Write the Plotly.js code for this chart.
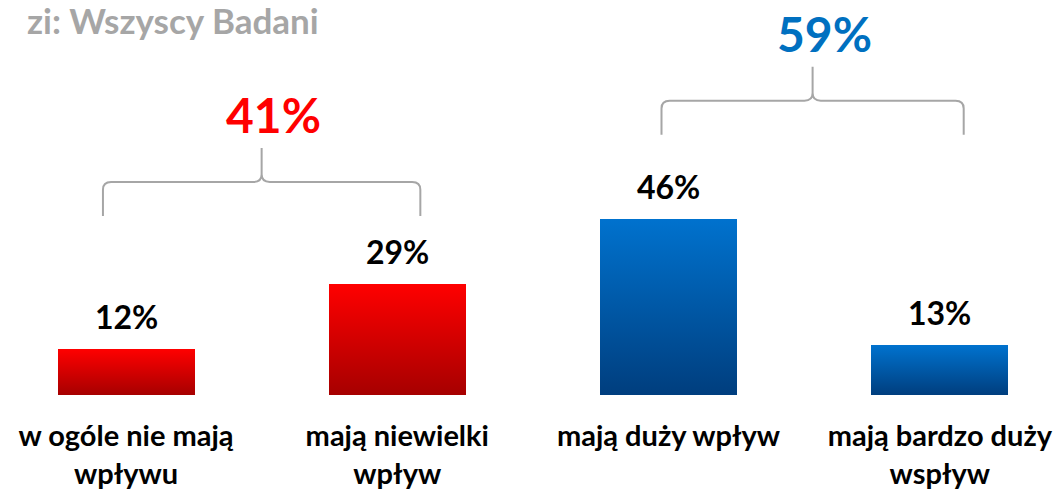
<!DOCTYPE html>
<html><head><meta charset="utf-8">
<script src="https://cdn.plot.ly/plotly-3.0.1.min.js"></script>
<style>html,body{margin:0;padding:0;background:#fff}#chart{width:1060px;height:490px}</style>
</head><body><div id="chart"></div>
<script>
// ---- data ----
const categories = ['w ogóle nie mają<br>wpływu', 'mają niewielki<br>wpływ', 'mają duży wpływ', 'mają bardzo duży<br>wspływ'];
const values = [12, 29, 46, 13];
const groupTotals = [41, 59];
const groupMembers = [[0, 1], [2, 3]];
const subtitleText = 'zi: Wszyscy Badani';

// ---- style ----
const FONT = 'Lato, "Open Sans", sans-serif';
const barTop = ['#FF0000', '#FF0000', '#0072CE', '#0072CE'];
const barBottom = ['#A60000', '#A60000', '#003E7E', '#003E7E'];
const groupColors = ['#FF0000', '#0070C0'];
const braceColor = '#A6A6A6';
const braceEnds = [46.7, 67.9];       // level where the brace legs end
const braceSpan = [[-0.085, 0.085], [-0.026, 0.088]];

const xs = values.map((v, i) => i);

const trace = {
  type: 'bar', x: xs, y: values, width: 0.505,
  marker: {color: barTop, line: {width: 0}},
  hoverinfo: 'skip', showlegend: false
};

const annotations = values.map((v, i) => ({
  x: i, y: v, xref: 'x', yref: 'y', text: v + '%', showarrow: false,
  yanchor: 'bottom', yshift: 11,
  font: {family: FONT, size: 32, color: '#000', weight: 'bold'}
}));

const shapes = [];
const rx = 0.03, ry = 2.0, rise = 8.9;
groupMembers.forEach((g, k) => {
  const xa = g[0] + braceSpan[k][0];
  const xb = g[g.length - 1] + braceSpan[k][1];
  const xc = (xa + xb) / 2;
  const yE = braceEnds[k], yM = yE + rise, yP = yM + rise;
  const path = `M ${xa},${yE} L ${xa},${yM - ry} Q ${xa},${yM} ${xa + rx},${yM} ` +
    `L ${xc - rx},${yM} Q ${xc},${yM} ${xc},${yM + ry} L ${xc},${yP} ` +
    `M ${xc},${yM + ry} Q ${xc},${yM} ${xc + rx},${yM} ` +
    `L ${xb - rx},${yM} Q ${xb},${yM} ${xb},${yM - ry} L ${xb},${yE}`;
  shapes.push({type: 'path', xref: 'x', yref: 'y', path: path,
    line: {color: braceColor, width: 2}});
  annotations.push({
    x: xc, y: yP, xref: 'x', yref: 'y', text: groupTotals[k] + '%', showarrow: false,
    yanchor: 'bottom', yshift: 3, xshift: 12,
    font: {family: FONT, size: 48, color: groupColors[k], weight: 'bold'}
  });
});

annotations.push({
  x: 321 / 1060, y: 1 - 20 / 395, xref: 'paper', yref: 'paper', xanchor: 'right', yanchor: 'middle',
  text: subtitleText, showarrow: false,
  font: {family: FONT, size: 35, color: '#A6A6A6', weight: 'bold'}
});

const layout = {
  width: 1060, height: 490,
  margin: {l: 0, r: 0, t: 0, b: 95, pad: 0},
  paper_bgcolor: '#fff', plot_bgcolor: '#fff',
  xaxis: {range: [-0.4645, 3.443], tickvals: xs, ticktext: categories,
    showgrid: false, zeroline: false, showline: false, ticks: '', ticklabelstandoff: 21,
    tickfont: {family: FONT, size: 29, color: '#000', weight: 'bold'}, fixedrange: true},
  yaxis: {range: [0, 103.1], visible: false, fixedrange: true},
  annotations: annotations, shapes: shapes, bargap: 0
};

Plotly.newPlot('chart', [trace], layout, {staticPlot: true, displayModeBar: false}).then(gd => {
  const svg = gd.querySelector('svg.main-svg');
  const ns = 'http://www.w3.org/2000/svg';
  let defs = svg.querySelector('defs');
  if (!defs) { defs = document.createElementNS(ns, 'defs'); svg.insertBefore(defs, svg.firstChild); }
  gd.querySelectorAll('.barlayer .point path').forEach((p, i) => {
    const g = document.createElementNS(ns, 'linearGradient');
    g.setAttribute('id', 'bargrad' + i);
    g.setAttribute('x1', '0'); g.setAttribute('y1', '0');
    g.setAttribute('x2', '0'); g.setAttribute('y2', '1');
    const s1 = document.createElementNS(ns, 'stop');
    s1.setAttribute('offset', '0'); s1.setAttribute('stop-color', barTop[i]);
    const s2 = document.createElementNS(ns, 'stop');
    s2.setAttribute('offset', '1'); s2.setAttribute('stop-color', barBottom[i]);
    g.appendChild(s1); g.appendChild(s2); defs.appendChild(g);
    p.style.fill = 'url(#bargrad' + i + ')';
  });
});
</script>
</body></html>
